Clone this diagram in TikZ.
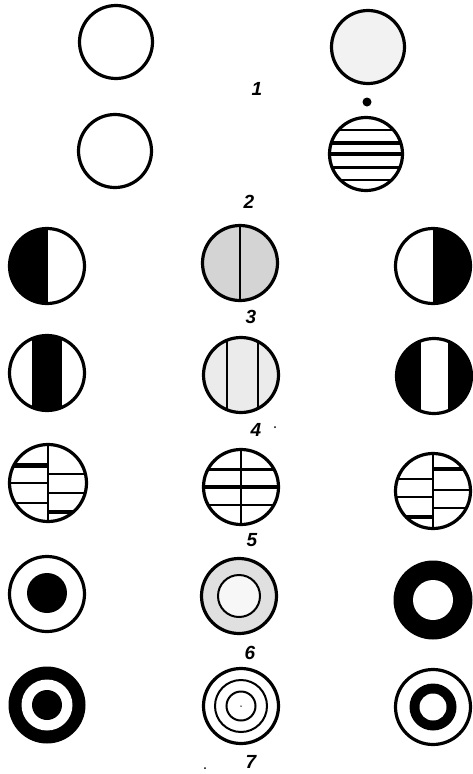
\documentclass[tikz,border=0pt]{standalone}
\usepackage{fontspec}
\newfontfamily\labfont{Liberation Sans}
\begin{document}
\begin{tikzpicture}[x=1pt,y=-1pt,
  ring/.style={line width=3.2pt},
  thinring/.style={line width=2pt},
  hl/.style={line width=1.8pt},
  lab/.style={font=\labfont\bfseries\itshape\fontsize{19}{19}\selectfont, inner sep=0pt},
  speck/.style={fill=black, inner sep=0pt, minimum size=2pt, circle}
]
\useasboundingbox (0,0) rectangle (473,774);
% ---------- group 1 ----------
\node[circle, ring, draw, minimum size=73pt, inner sep=0pt] (c1a) at (116,42) {};
\node[circle, ring, draw, fill=black!5, minimum size=73pt, inner sep=0pt] (c1b) at (368,47) {};
\node[lab] (l1) at (257,89) {1};
\node[circle, fill=black, inner sep=0pt, minimum size=9pt] (d1) at (367,102) {};
% ---------- group 2 ----------
\node[circle, ring, draw, minimum size=73pt, inner sep=0pt] (c2a) at (115,151) {};
\begin{scope}[shift={(366,154)}]
  \begin{scope}
    \clip (0,0) circle (37);
    \draw[line width=2pt] (-40,-24) -- (40,-24);
    \draw[line width=3.6pt] (-40,-11) -- (40,-11);
    \draw[line width=4pt] (-40,0) -- (40,0);
    \draw[line width=3pt] (-40,13) -- (40,13);
    \draw[line width=2pt] (-40,26) -- (40,26);
  \end{scope}
  \node[circle, ring, draw, minimum size=73pt, inner sep=0pt] (c2b) at (0,0) {};
\end{scope}
\node[lab] (l2) at (249,202) {2};
% ---------- group 3 ----------
\begin{scope}[shift={(47,266)}]
  \begin{scope}\clip (0,0) circle (38); \fill (-40,-40) rectangle (1,40); \end{scope}
  \node[circle, ring, draw, minimum size=75pt, inner sep=0pt] (c3a) at (0,0) {};
\end{scope}
\begin{scope}[shift={(240,263)}]
  \fill[black!17] (0,0) circle (38);
  \draw[line width=1.6pt] (0,-38) -- (0,38);
  \node[circle, ring, draw, minimum size=75pt, inner sep=0pt] (c3b) at (0,0) {};
\end{scope}
\begin{scope}[shift={(433,266)}]
  \begin{scope}\clip (0,0) circle (38); \fill (0,-40) rectangle (40,40); \end{scope}
  \node[circle, ring, draw, minimum size=75pt, inner sep=0pt] (c3c) at (0,0) {};
\end{scope}
\node[lab] (l3) at (251,317) {3};
% ---------- group 4 ----------
\begin{scope}[shift={(47,373)}]
  \begin{scope}\clip (0,0) circle (38); \fill (-15,-40) rectangle (15,40); \end{scope}
  \node[circle, ring, draw, minimum size=75pt, inner sep=0pt] (c4a) at (0,0) {};
\end{scope}
\begin{scope}[shift={(241,375)}]
  \fill[black!8] (0,0) circle (38);
  \begin{scope}\clip (0,0) circle (38);
    \draw[line width=1.6pt] (-14,-40) -- (-14,40);
    \draw[line width=1.6pt] (17,-40) -- (17,40);
  \end{scope}
  \node[circle, ring, draw, minimum size=75pt, inner sep=0pt] (c4b) at (0,0) {};
\end{scope}
\begin{scope}[shift={(434,376)}]
  \begin{scope}\clip (0,0) circle (38);
    \fill (-40,-40) rectangle (40,40);
    \fill[white] (-13,-40) rectangle (14,40);
  \end{scope}
  \node[circle, ring, draw, minimum size=75pt, inner sep=0pt] (c4c) at (0,0) {};
\end{scope}
\node[lab] (l4) at (256,430) {4};
\node[speck] (s4) at (275,427) {};
% ---------- group 5 ----------
\begin{scope}[shift={(48,483)}]
  \begin{scope}\clip (0,0) circle (39);
    \fill (-41,-20) rectangle (0,-15);
    \draw[hl] (-41,0) -- (0,0);
    \draw[hl] (-41,20) -- (0,20);
    \draw[hl] (0,-9) -- (41,-9);
    \draw[hl] (0,10) -- (41,10);
    \fill (0,27) rectangle (41,31);
    \draw[line width=1.6pt] (0,-41) -- (0,41);
  \end{scope}
  \node[circle, ring, draw, minimum size=77pt, inner sep=0pt] (c5a) at (0,0) {};
\end{scope}
\begin{scope}[shift={(241,487)}]
  \begin{scope}\clip (0,0) circle (38);
    \draw[line width=3pt] (-40,-18) -- (40,-18);
    \draw[line width=4pt] (-40,0) -- (40,0);
    \draw[line width=2.6pt] (-40,18) -- (40,18);
    \draw[line width=1.6pt] (0,-40) -- (0,40);
  \end{scope}
  \node[circle, ring, draw, minimum size=75pt, inner sep=0pt] (c5b) at (0,0) {};
\end{scope}
\begin{scope}[shift={(433,491)}]
  \begin{scope}\clip (0,0) circle (38);
    \fill (0,-24) rectangle (40,-20);
    \draw[hl] (0,-1) -- (40,-1);
    \draw[hl] (0,17) -- (40,17);
    \draw[hl] (-40,-12) -- (0,-12);
    \draw[line width=2.6pt] (-40,6) -- (0,6);
    \fill (-40,24) rectangle (0,28);
    \draw[line width=1.6pt] (0,-40) -- (0,40);
  \end{scope}
  \node[circle, ring, draw, minimum size=75pt, inner sep=0pt] (c5c) at (0,0) {};
\end{scope}
\node[lab] (l5) at (252,540) {5};
% ---------- group 6 ----------
\node[circle, ring, draw, minimum size=75pt, inner sep=0pt] (c6a) at (47,594) {};
\node[circle, fill=black, minimum size=40pt, inner sep=0pt] (c6ai) at (47,593) {};
\node[circle, ring, draw, fill=black!12, minimum size=75pt, inner sep=0pt] (c6b) at (239,596) {};
\node[circle, thinring, draw, fill=black!3, minimum size=42pt, inner sep=0pt] (c6bi) at (239,596) {};
\node[circle, fill=black, minimum size=79pt, inner sep=0pt] (c6c) at (433,600) {};
\node[circle, fill=white, minimum size=40pt, inner sep=0pt] (c6ci) at (433,600) {};
\node[lab] (l6) at (250,653) {6};
% ---------- group 7 ----------
\node[circle, fill=black, minimum size=77pt, inner sep=0pt] (c7a) at (47,705) {};
\node[circle, fill=white, minimum size=51pt, inner sep=0pt] (c7aw) at (47,705) {};
\node[circle, fill=black, minimum size=30pt, inner sep=0pt] (c7ai) at (47,705) {};
\node[circle, ring, draw, minimum size=75pt, inner sep=0pt] (c7b) at (241,706) {};
\node[circle, thinring, draw, minimum size=52pt, inner sep=0pt] (c7bm) at (241,706) {};
\node[circle, thinring, draw, minimum size=29pt, inner sep=0pt] (c7bi) at (241,706) {};
\node[speck, minimum size=1.5pt] (c7bc) at (241,706) {};
\node[circle, ring, draw, minimum size=75pt, inner sep=0pt] (c7c) at (433,707) {};
\node[circle, fill=black, minimum size=47pt, inner sep=0pt] (c7cb) at (433,707) {};
\node[circle, fill=white, minimum size=27pt, inner sep=0pt] (c7cw) at (433,707) {};
\node[lab] (l7) at (251,762) {7};
\node[speck] (s7) at (205,768) {};
\end{tikzpicture}
\end{document}
